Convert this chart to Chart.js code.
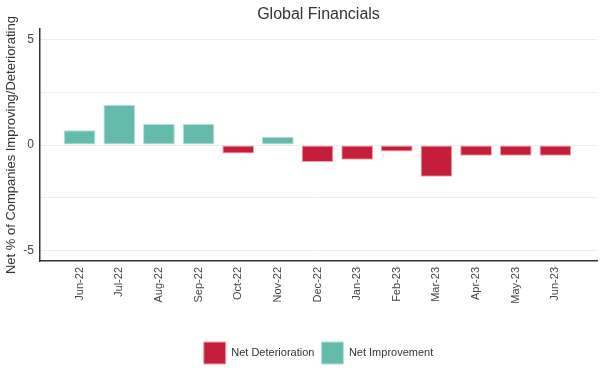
<!DOCTYPE html>
<html>
<head>
<meta charset="utf-8">
<script src="https://cdn.jsdelivr.net/npm/chart.js@4"></script>
<style>
  html, body { margin: 0; padding: 0; background: #fff; }
  #wrap { width: 605px; height: 378px; }
</style>
</head>
<body>
<div id="wrap"><canvas id="chart"></canvas></div>
<script>
const months = ['Jun-22','Jul-22','Aug-22','Sep-22','Oct-22','Nov-22','Dec-22','Jan-23','Feb-23','Mar-23','Apr-23','May-23','Jun-23'];
const deterioration = [null, null, null, null, -0.4, null, -0.8, -0.7, -0.3, -1.5, -0.5, -0.5, -0.5];
const improvement = [0.7, 1.9, 1.0, 1.0, null, 0.4, null, null, null, null, null, null, null];
const yTicks = [-5, -2.5, 0, 2.5, 5];

const font = "'Liberation Sans', Arial, sans-serif";

function points(values){
    return values.map((v, i) => ({ x: i, y: v }));
}

new Chart(document.getElementById('chart'), {
    type: 'bar',
    data: {
        datasets: [
            {
                label: 'Net Deterioration',
                data: points(deterioration),
                backgroundColor: '#c41e3a',
                borderColor: '#f4a3ab',
                borderWidth: 1,
                borderSkipped: false,
                grouped: false,
                categoryPercentage: 0.8,
                barPercentage: 1
            },
            {
                label: 'Net Improvement',
                data: points(improvement),
                backgroundColor: '#64baab',
                borderColor: '#b5e0d8',
                borderWidth: 1,
                borderSkipped: false,
                grouped: false,
                categoryPercentage: 0.8,
                barPercentage: 1
            }
        ]
    },
    options: {
        responsive: true,
        maintainAspectRatio: false,
        animation: false,
        layout: { padding: { left: 0, right: 8, top: 0, bottom: 4 } },
        plugins: {
            title: {
                display: true,
                text: 'Global Financials',
                fullSize: false,
                color: '#333',
                font: { family: font, size: 16, weight: 'normal' },
                padding: { top: 5, bottom: 5 }
            },
            legend: {
                position: 'bottom',
                fullSize: false,
                labels: {
                    boxWidth: 22,
                    boxHeight: 22,
                    padding: 7,
                    color: '#333',
                    font: { family: font, size: 11 }
                }
            },
            tooltip: { enabled: false }
        },
        scales: {
            x: {
                type: 'linear',
                offset: false,
                min: -1,
                max: 13.05,
                grid: { display: false, drawTicks: false },
                border: { display: true, color: '#333', width: 1.5 },
                afterBuildTicks: s => { s.ticks = months.map((m, i) => ({ value: i })); },
                afterFit: s => { s.height = 74; },
                ticks: {
                    autoSkip: false,
                    minRotation: 90,
                    maxRotation: 90,
                    padding: 6,
                    color: '#444',
                    font: { family: font, size: 11 },
                    callback: v => months[v]
                }
            },
            y: {
                min: -5.5,
                max: 5.5,
                afterBuildTicks: s => { s.ticks = yTicks.map(v => ({ value: v })); },
                afterFit: s => { s.width = 40; },
                grid: { color: '#ebebeb', lineWidth: 1, drawTicks: false },
                border: { display: true, color: '#333', width: 1.5 },
                ticks: {
                    padding: 6,
                    color: '#444',
                    font: { family: font, size: 12 },
                    callback: v => (v % 5 === 0 ? v : '')
                },
                title: {
                    display: true,
                    text: 'Net % of Companies Improving/Deteriorating',
                    color: '#333',
                    font: { family: font, size: 13 },
                    padding: { top: 4, bottom: 4 }
                }
            }
        }
    }
});
</script>
</body>
</html>
